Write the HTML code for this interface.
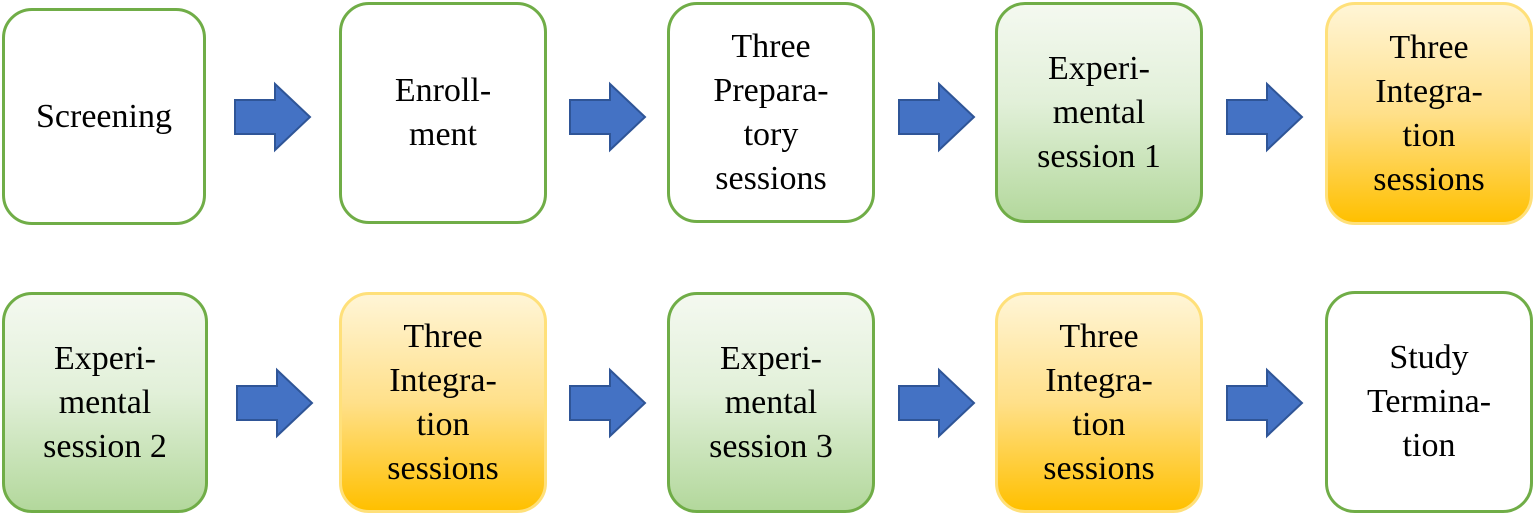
<!DOCTYPE html>
<html><head><style>
body{margin:0;width:1535px;height:516px;background:#fff;position:relative;overflow:hidden;font-family:"Liberation Serif",serif;}
.b{position:absolute;box-sizing:border-box;border:3px solid #70ad47;border-radius:30px;display:flex;align-items:center;justify-content:center;text-align:center;font-size:34px;line-height:44px;color:#000;background:#fff;}
.g{background:linear-gradient(#f4f9f0,#e2f0d9 45%,#b3d89c);}
.y{background:linear-gradient(#fff5d6,#ffe08a 50%,#ffc000);border-color:#ffe07a;}
svg{position:absolute;}
</style></head><body>
<div class="b" style="left:2px;top:8px;width:204px;height:217px">Screening</div>
<div class="b" style="left:339px;top:2px;width:208px;height:222px">Enroll-<br>ment</div>
<div class="b" style="left:667px;top:2px;width:208px;height:221px">Three<br>Prepara-<br>tory<br>sessions</div>
<div class="b g" style="left:995px;top:2px;width:208px;height:221px">Experi-<br>mental<br>session 1</div>
<div class="b y" style="left:1325px;top:2px;width:208px;height:223px">Three<br>Integra-<br>tion<br>sessions</div>
<div class="b g" style="left:2px;top:292px;width:206px;height:221px">Experi-<br>mental<br>session 2</div>
<div class="b y" style="left:339px;top:292px;width:208px;height:221px">Three<br>Integra-<br>tion<br>sessions</div>
<div class="b g" style="left:667px;top:292px;width:208px;height:221px">Experi-<br>mental<br>session 3</div>
<div class="b y" style="left:995px;top:292px;width:208px;height:221px">Three<br>Integra-<br>tion<br>sessions</div>
<div class="b" style="left:1325px;top:291px;width:208px;height:222px">Study<br>Termina-<br>tion</div>
<svg width="1535" height="516">
<defs><path id="a" d="M0 16 H40 V0 L75 33 L40 66 V50 H0 Z" fill="#4472c4" stroke="#2f5597" stroke-width="2"/></defs>
<use href="#a" x="235" y="84"/><use href="#a" x="570" y="84"/><use href="#a" x="899" y="84"/><use href="#a" x="1227" y="84"/>
<use href="#a" x="237" y="370"/><use href="#a" x="570" y="370"/><use href="#a" x="899" y="370"/><use href="#a" x="1227" y="370"/>
</svg>
</body></html>
